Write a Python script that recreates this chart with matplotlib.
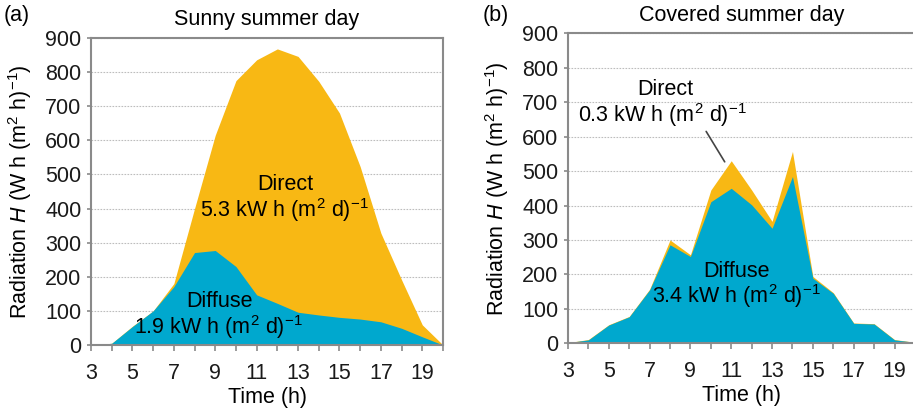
import matplotlib
matplotlib.use("Agg")
import matplotlib.pyplot as plt

plt.rcParams['font.family'] = ['Liberation Sans', 'DejaVu Sans']
plt.rcParams['mathtext.fontset'] = 'custom'
plt.rcParams['mathtext.rm'] = 'Liberation Sans'
plt.rcParams['mathtext.it'] = 'Liberation Sans:italic'

hours = list(range(3, 21))

# sunny day, Wh per m2 and hour
sunny_total = [0, 5, 55, 100, 180, 400, 615, 775, 836, 868, 846, 773, 680, 523, 328, 191, 59, 0]
sunny_diffuse = [0, 5, 54, 100, 171, 271, 277, 230, 147, 122, 96, 88, 81, 76, 68, 49, 24, 0]

# covered day
covered_total = [2, 11, 54, 78, 157, 300, 257, 445, 530, 445, 354, 557, 194, 147, 59, 57, 11, 3]
covered_diffuse = [2, 10, 53, 77, 155, 286, 252, 411, 450, 402, 334, 484, 189, 145, 58, 56, 10, 3]

YELLOW = '#F8B814'
BLUE = '#00A8CE'
SPINE = '#8a8a8a'
FS = 15.5

fig = plt.figure(figsize=(9.13, 4.09), dpi=100)
ax1 = fig.add_axes([0.0997, 0.1565, 0.3855, 0.7506])
ax2 = fig.add_axes([0.6221, 0.1606, 0.380, 0.758])


def style(ax, total, diffuse, title):
    ax.fill_between(hours, total, color=YELLOW, lw=0)
    ax.fill_between(hours, diffuse, color=BLUE, lw=0)
    ax.set_xlim(3, 20)
    ax.set_ylim(0, 900)
    ax.set_xticks(range(3, 21, 2))
    ax.set_xticks(range(3, 21), minor=True)
    ax.set_yticks(range(0, 901, 100))
    ax.grid(axis='y', color='#bdbdbd', ls=(0, (1.5, 1.2)), lw=0.8)
    ax.set_axisbelow(True)
    for s in ax.spines.values():
        s.set_color(SPINE)
        s.set_linewidth(1.5)
    ax.tick_params(axis='both', which='both', color=SPINE, width=1.2, labelsize=FS,
                   labelcolor='#1a1a1a')
    ax.tick_params(axis='x', which='both', length=4, pad=9)
    ax.tick_params(axis='y', length=3, pad=4)
    ax.set_xlabel('Time (h)', fontsize=FS, labelpad=2)
    ax.set_ylabel('Radiation $H$ (W h (m$^2$ h)$^{-1}$)', fontsize=FS, labelpad=8)
    ax.set_title(title, fontsize=FS, pad=9)


style(ax1, sunny_total, sunny_diffuse, 'Sunny summer day')
style(ax2, covered_total, covered_diffuse, 'Covered summer day')

# panel (a) labels
ax1.text(12.4, 470, 'Direct', ha='center', va='center', fontsize=FS)
ax1.text(12.35, 396, '5.3 kW h (m$^2$ d)$^{-1}$', ha='center', va='center', fontsize=FS)
ax1.text(9.2, 127, 'Diffuse', ha='center', va='center', fontsize=FS)
ax1.text(9.15, 54, '1.9 kW h (m$^2$ d)$^{-1}$', ha='center', va='center', fontsize=FS)

# panel (b) labels
ax2.text(7.75, 736, 'Direct', ha='center', va='center', fontsize=FS)
ax2.text(7.65, 663, '0.3 kW h (m$^2$ d)$^{-1}$', ha='center', va='center', fontsize=FS)
ax2.annotate('', xy=(10.75, 520), xytext=(9.7, 622),
             arrowprops=dict(arrowstyle='-', color='#444444', lw=1.2))
ax2.text(11.28, 208, 'Diffuse', ha='center', va='center', fontsize=FS)
ax2.text(11.24, 136, '3.4 kW h (m$^2$ d)$^{-1}$', ha='center', va='center', fontsize=FS)

fig.text(17 / 913, 1 - 15 / 409, '(a)', ha='center', va='center', fontsize=FS)
fig.text(496 / 913, 1 - 15 / 409, '(b)', ha='center', va='center', fontsize=FS)

fig.savefig('out.png', dpi=100)
